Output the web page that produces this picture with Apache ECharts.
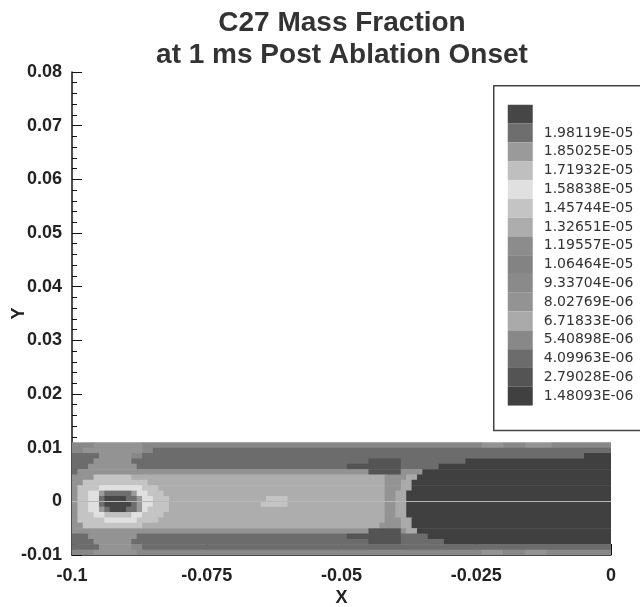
<!DOCTYPE html>
<html>
<head>
<meta charset="utf-8">
<script src="https://cdn.jsdelivr.net/npm/echarts@6/dist/echarts.min.js"></script>
<style>
  html, body { margin: 0; padding: 0; background: #fff; }
  #chart { width: 640px; height: 607px; }
</style>
</head>
<body>
<div id="chart"></div>
<script>
// contour levels, lowest first (legend reads top = highest)
const levelValues = [1.48093e-6, 2.79028e-6, 4.09963e-6, 5.40898e-6, 6.71833e-6, 8.02769e-6, 9.33704e-6,
  1.06464e-5, 1.19557e-5, 1.32651e-5, 1.45744e-5, 1.58838e-5, 1.71932e-5, 1.85025e-5, 1.98119e-5]
const levelLabels = ['1.48093E-06', '2.79028E-06', '4.09963E-06', '5.40898E-06', '6.71833E-06', '8.02769E-06', '9.33704E-06',
  '1.06464E-05', '1.19557E-05', '1.32651E-05', '1.45744E-05', '1.58838E-05', '1.71932E-05', '1.85025E-05', '1.98119E-05']
const aboveMaxValue = 2.11213e-5
const bandColors = ['#404040', '#545454', '#6c6c6c', '#888888', '#aaaaaa', '#939393', '#8a8a8a', '#838383',
  '#8c8c8c', '#adadad', '#c4c4c4', '#e0e0e0', '#bfbfbf', '#9a9a9a', '#6e6e6e', '#464646']

const xTickLabels = ['-0.1', '-0.075', '-0.05', '-0.025', '0']
const yTickLabels = ['-0.01', '0', '0.01', '0.02', '0.03', '0.04', '0.05', '0.06', '0.07', '0.08']

// field: one row per 0.001 in y (top row first, y = 0.011 down to -0.01),
// each row run-length coded as band*count over 100 cells of 0.001 in x (from -0.1 to 0)
const cellSize = 0.001
const fieldLeft = -0.1
const fieldTop = 0.011
const bandRows = [
  '3*4 5*9 3*63 5*4 3*4 5*5 3*11',
  '3*2 5*11 3*2 2*85',
  '2*5 5*6 3*2 2*82 0*5',
  '2*4 5*7 2*44 1*6 2*12 0*27',
  '2*3 5*9 2*39 1*10 2*7 0*32',
  '2*1 5*54 1*6 5*4 0*35',
  '5*4 a*7 9*47 5*4 4*2 0*36',
  '5*2 a*12 9*44 5*3 4*2 0*37',
  '5*1 a*4 b*8 a*3 9*42 5*3 4*2 0*37',
  '5*1 a*2 b*2 d*1 e*5 d*1 b*2 a*3 9*41 5*2 4*2 0*38',
  '5*1 a*2 b*2 e*1 f*4 e*2 d*1 b*2 a*3 9*18 a*4 9*18 5*2 4*2 0*38',
  '5*1 a*2 b*2 e*1 f*5 e*1 d*1 b*2 a*3 9*17 a*5 9*18 5*2 4*2 0*38',
  '5*1 a*2 b*2 d*1 e*1 f*3 e*2 d*1 b*1 a*4 9*40 5*2 4*2 0*38',
  '5*1 a*3 b*2 c*5 b*2 a*4 9*41 5*2 4*2 0*38',
  '5*1 a*5 b*6 a*4 9*42 5*3 4*2 0*37',
  '5*2 a*11 9*44 5*4 4*2 0*37',
  '5*55 1*6 5*1 4*2 0*36',
  '2*3 5*9 2*39 1*10 2*5 0*34',
  '2*4 5*7 2*44 1*6 2*8 0*31',
  '2*5 5*6 3*2 2*87',
  '3*4 5*8 3*64 5*4 3*4 5*4 3*12'
]
const sliceLineY = -0.0015

// turn the runs into rectangles [x0, x1, y0, y1, value]
const cells = []
bandRows.forEach((row, r) => {
  let k = 0
  row.split(' ').forEach(seg => {
    const parts = seg.split('*')
    const band = parseInt(parts[0], 16)
    const n = +parts[1]
    const value = band < levelValues.length ? levelValues[band] : aboveMaxValue
    cells.push([fieldLeft + k * cellSize, fieldLeft + (k + n) * cellSize,
      fieldTop - (r + 1) * cellSize, fieldTop - r * cellSize, value])
    k += n
  })
})

const pieces = levelValues.map((v, i) => ({ value: v, label: levelLabels[i], color: bandColors[i] }))
pieces.push({ value: aboveMaxValue, label: ' ', color: bandColors[15] })

const renderCell = (params, api) => {
  const p0 = api.coord([api.value(0), api.value(3)])
  const p1 = api.coord([api.value(1), api.value(2)])
  return {
    type: 'rect',
    shape: { x: p0[0], y: p0[1], width: p1[0] - p0[0] + 0.6, height: p1[1] - p0[1] + 0.6 },
    style: { fill: api.visual('color') }
  }
}

const axisText = { fontFamily: 'Liberation Sans', fontWeight: 'bold', fontSize: 18, color: '#222' }

const chart = echarts.init(document.getElementById('chart'))
chart.setOption({
  animation: false,
  title: {
    text: 'C27 Mass Fraction\nat 1 ms Post Ablation Onset',
    left: 337,
    top: 2,
    textAlign: 'center',
    textStyle: { fontFamily: 'Liberation Sans', fontWeight: 'bold', fontSize: 28, lineHeight: 32, color: '#333' }
  },
  grid: { left: 72, right: 29, top: 72, bottom: 52, containLabel: false, outerBoundsMode: 'none' },
  xAxis: {
    type: 'value',
    min: -0.1,
    max: 0,
    interval: 0.025,
    name: 'X',
    nameLocation: 'middle',
    nameGap: 34,
    nameMoveOverlap: false,
    nameTextStyle: axisText,
    axisLine: { onZero: false, lineStyle: { color: '#111', width: 1.5 } },
    axisTick: { inside: true, length: 11, lineStyle: { color: '#111' } },
    minorTick: { show: true, splitNumber: 5, length: 6, lineStyle: { color: '#111' } },
    axisLabel: { margin: 12, ...axisText, formatter: (v, i) => xTickLabels[i] },
    splitLine: { show: false }
  },
  yAxis: {
    type: 'value',
    min: -0.01,
    max: 0.08,
    interval: 0.01,
    name: 'Y',
    nameLocation: 'middle',
    nameGap: 44,
    nameMoveOverlap: false,
    nameTextStyle: axisText,
    axisLine: { show: true, onZero: false, lineStyle: { color: '#111', width: 1.5 } },
    axisTick: { show: true, inside: true, length: 10, lineStyle: { color: '#111' } },
    minorTick: { show: true, splitNumber: 5, length: 5, lineStyle: { color: '#111' } },
    axisLabel: { margin: 10, ...axisText, formatter: (v, i) => yTickLabels[i] },
    splitLine: { show: false }
  },
  visualMap: {
    type: 'piecewise',
    dimension: 4,
    seriesIndex: 0,
    pieces: pieces,
    orient: 'vertical',
    left: 493,
    top: 85,
    itemWidth: 25,
    itemHeight: 18.8,
    itemGap: 0,
    textGap: 11,
    align: 'left',
    itemSymbol: 'rect',
    selectedMode: false,
    hoverLink: false,
    padding: [19, 60, 25, 14],
    borderColor: '#444',
    borderWidth: 1.5,
    backgroundColor: '#fff',
    textStyle: { fontFamily: 'DejaVu Sans', fontSize: 14, color: '#333' }
  },
  series: [
    {
      type: 'custom',
      renderItem: renderCell,
      encode: { x: [0, 1], y: [2, 3] },
      data: cells,
      clip: true,
      markLine: {
        silent: true,
        symbol: 'none',
        label: { show: false },
        lineStyle: { color: '#b8b8b8', width: 1, type: 'solid' },
        data: [{ yAxis: sliceLineY }]
      }
    }
  ]
})
</script>
</body>
</html>
